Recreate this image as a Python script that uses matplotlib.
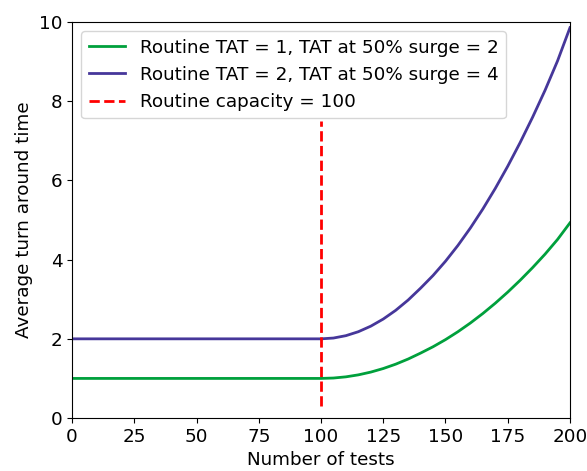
import matplotlib
matplotlib.use("Agg")
import matplotlib.pyplot as plt

x = [0, 100, 105, 110, 115, 120, 125, 130, 135, 140, 145, 150, 155, 160, 165,
     170, 175, 180, 185, 190, 195, 200]
tat_routine1 = [1.00, 1.00, 1.01, 1.04, 1.09, 1.16, 1.25, 1.36, 1.49, 1.64, 1.80,
                1.98, 2.18, 2.40, 2.64, 2.90, 3.18, 3.48, 3.80, 4.14, 4.51, 4.93]
tat_routine2 = [2.00, 2.00, 2.02, 2.08, 2.18, 2.32, 2.50, 2.72, 2.98, 3.28, 3.60,
                3.96, 4.36, 4.80, 5.28, 5.80, 6.36, 6.96, 7.60, 8.28, 9.02, 9.86]
capacity = 100
capacity_span = [0.3, 7.5]
xticks = [0, 25, 50, 75, 100, 125, 150, 175, 200]
yticks = [0, 2, 4, 6, 8, 10]

plt.rcParams['font.size'] = 13.2
fig = plt.figure(figsize=(5.87, 4.71), dpi=100)
ax = fig.add_axes([0.1227, 0.1125, 0.8483, 0.8405])
ax.plot(x, tat_routine1, color='#00A03C', lw=2,
        label='Routine TAT = 1, TAT at 50% surge = 2')
ax.plot(x, tat_routine2, color='#46379A', lw=2,
        label='Routine TAT = 2, TAT at 50% surge = 4')
ax.plot([capacity, capacity], capacity_span, color='red', lw=2, ls='--',
        label='Routine capacity = 100')
ax.set_xlim(0, 200)
ax.set_ylim(0, 10)
ax.set_xticks(xticks)
ax.set_yticks(yticks)
ax.set_xlabel('Number of tests')
ax.set_ylabel('Average turn around time')
ax.legend(loc='upper left')
fig.savefig('out.png', dpi=100)
